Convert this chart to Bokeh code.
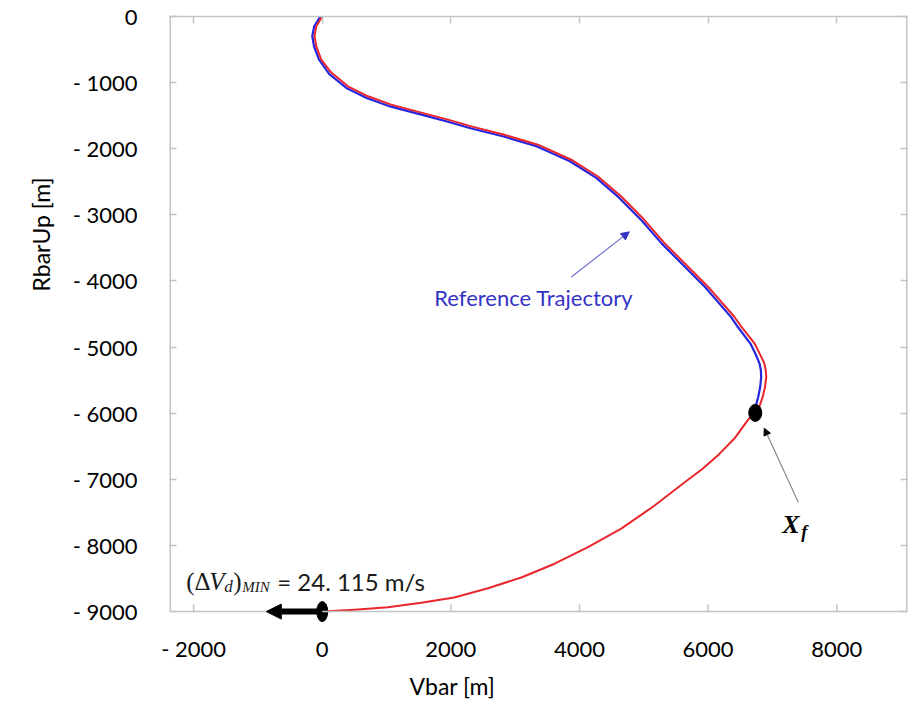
from bokeh.plotting import figure
from bokeh.models import (FixedTicker, Range1d, LinearAxis, Label, Arrow,
                          NormalHead, ColumnDataSource, Span, Title)
from bokeh.embed import file_html
from bokeh.resources import INLINE

# ---------------- data ----------------
x_ticks = [-2000, 0, 2000, 4000, 6000, 8000]
x_tick_labels = ["- 2000", "0", "2000", "4000", "6000", "8000"]
y_ticks = [0, -1000, -2000, -3000, -4000, -5000, -6000, -7000, -8000, -9000]
y_tick_labels = ["0", "- 1000", "- 2000", "- 3000", "- 4000", "- 5000",
                 "- 6000", "- 7000", "- 8000", "- 9000"]
x_title = "Vbar [m]"
y_title = "RbarUp [m]"

# red: actual trajectory (Vbar, RbarUp), from (0,0) through Xf back to (0,-9000)
red_vbar = [0, -93, -120, -93, -16, 140, 400, 711, 1073, 1539, 1955, 2317,
            2830, 3354, 3872, 4287, 4649, 5007, 5318, 5998, 6407, 6516,
            6718, 6800, 6873, 6895, 6904, 6885, 6850, 6795, 6733,
            6620, 6420, 6175, 5915, 5600, 5163, 4649, 4132, 3613, 3095, 2577,
            2053, 1539, 1022, 502, 0]
red_rbarup = [0, -147, -298, -450, -651, -848, -1056, -1207, -1333, -1454,
              -1560, -1662, -1788, -1939, -2166, -2420, -2722, -3075, -3424,
              -4086, -4541, -4692, -4939, -5095, -5242, -5348, -5449, -5600,
              -5750, -5904, -5995,
              -6100, -6370, -6615, -6840, -7070, -7400, -7746, -8025, -8276,
              -8484, -8646, -8787, -8868, -8934, -8973, -9000]

# blue: reference trajectory, ends at Xf
blue_vbar = [-30, -125, -155, -128, -50, 110, 375, 690, 1055, 1525, 1940,
             2305, 2820, 3340, 3850, 4260, 4615, 4970, 5280, 5955, 6360,
             6465, 6660, 6735, 6800, 6820, 6825, 6810, 6780, 6740, 6700]
blue_rbarup = [0, -147, -298, -450, -651, -870, -1080, -1232, -1360, -1480,
               -1588, -1690, -1815, -1965, -2190, -2440, -2740, -3090, -3435,
               -4095, -4550, -4700, -4950, -5100, -5250, -5350, -5449, -5600,
               -5750, -5890, -5990]

xf_point = (6733, -5995)        # final state Xf
start_point = (0, -9000)        # start of the manoeuvre
dv_arrow_end = (-870, -9000)    # delta-V direction arrow tip

# ---------------- figure ----------------
FONT = "Lato"
FRAME = "#c4c4c4"
X_MIN, X_MAX = -2375, 9100
Y_AXIS, Y_TOP = -9000, 0
Y_MIN = -9165                   # a little room below the axis line for the markers

p = figure(width=915, height=709,
           x_range=Range1d(X_MIN, X_MAX), y_range=Range1d(Y_MIN, Y_TOP),
           output_backend="svg", toolbar_location=None,
           min_border_left=169, min_border_right=8,
           min_border_top=16, min_border_bottom=87)
p.background_fill_color = "white"
p.border_fill_color = "white"
p.xgrid.grid_line_color = None
p.ygrid.grid_line_color = None
p.outline_line_color = None


def style_axis(ax, ticks, labels):
    ax.ticker = FixedTicker(ticks=ticks)
    ax.major_label_overrides = {t: l for t, l in zip(ticks, labels)}
    ax.major_tick_in = 7
    ax.major_tick_out = 0
    ax.minor_tick_line_color = None
    ax.axis_line_color = None
    ax.major_tick_line_color = FRAME
    ax.major_tick_line_width = 1.5
    ax.major_label_text_font = FONT
    ax.major_label_text_font_size = "22px"
    ax.major_label_text_color = "black"


style_axis(p.xaxis[0], x_ticks, x_tick_labels)
style_axis(p.yaxis[0], y_ticks, y_tick_labels)
p.xaxis.major_tick_line_color = None      # bottom ticks drawn at the axis line below
p.xaxis.major_label_standoff = 12
p.yaxis.major_label_standoff = 32

# axis titles, offset along the axes as in the reference
p.add_layout(Title(text=x_title, align="left", offset=240, standoff=10,
                   text_font=FONT, text_font_size="23px",
                   text_font_style="normal", text_color="black"), "below")
p.add_layout(Title(text=y_title, align="left", offset=331, standoff=30,
                   text_font=FONT, text_font_size="23px",
                   text_font_style="normal", text_color="black"), "left")

# mirrored inward ticks on top and right (no labels)
for ticks, side in ((x_ticks, "above"), (y_ticks, "right")):
    a = LinearAxis(ticker=FixedTicker(ticks=ticks))
    a.major_label_text_font_size = "1px"
    a.major_label_text_color = None
    a.major_label_standoff = 0
    a.major_tick_in = 7
    a.major_tick_out = 0
    a.minor_tick_line_color = None
    a.axis_line_color = FRAME if side == "above" else None
    a.axis_line_width = 1.5
    a.major_tick_line_color = FRAME
    a.major_tick_line_width = 1.5
    p.add_layout(a, side)

# frame: bottom axis line at -9000 and side borders
p.add_layout(Span(location=Y_AXIS, dimension="width", line_color=FRAME, line_width=1.5))
p.segment(x0=[X_MIN, X_MAX], y0=[Y_AXIS, Y_AXIS], x1=[X_MIN, X_MAX], y1=[Y_TOP, Y_TOP],
          line_color=FRAME, line_width=3)
# inward bottom ticks (7 px ~ 106 m)
p.segment(x0=x_ticks, y0=[Y_AXIS] * len(x_ticks), x1=x_ticks,
          y1=[Y_AXIS + 106] * len(x_ticks), line_color=FRAME, line_width=1.5)

# ---------------- curves ----------------
blue_src = ColumnDataSource(dict(x=blue_vbar, y=blue_rbarup))
red_src = ColumnDataSource(dict(x=red_vbar, y=red_rbarup))
p.line("x", "y", source=blue_src, line_color="#2626e0", line_width=2.2,
       line_join="round")
p.line("x", "y", source=red_src, line_color="#e8262c", line_width=2.0,
       line_join="round")

# delta-V arrow and start dot
p.add_layout(Arrow(end=NormalHead(size=15, fill_color="black", line_color="black"),
                   x_start=start_point[0], y_start=start_point[1],
                   x_end=dv_arrow_end[0], y_end=dv_arrow_end[1],
                   line_width=6, line_color="black"))
p.ellipse(x=[start_point[0]], y=[start_point[1]], width=11, height=20,
          width_units="screen", height_units="screen",
          fill_color="black", line_color="black")
p.ellipse(x=[xf_point[0]], y=[xf_point[1]], width=13, height=17,
          width_units="screen", height_units="screen",
          fill_color="black", line_color="black")

# ---------------- annotations ----------------
# Reference Trajectory
p.add_layout(Arrow(end=NormalHead(size=8, fill_color="#3434c8", line_color="#3434c8"),
                   x_start=3872, y_start=-3939, x_end=4774, y_end=-3257,
                   line_width=1.2, line_color="#7070d4"))
p.add_layout(Label(x=1742, y=-4257, text="Reference Trajectory",
                   text_font=FONT, text_font_size="22px", text_color="#3434c4",
                   text_baseline="middle", text_align="left"))

# X_f
p.add_layout(Arrow(end=NormalHead(size=7, fill_color="black", line_color="black"),
                   x_start=7402, y_start=-7348, x_end=6873, y_end=-6227,
                   line_width=1.2, line_color="#8a8a8a"))
p.add_layout(Label(x=7153, y=-7681, text="X", text_font="Liberation Serif",
                   text_font_size="26px", text_font_style="bold italic",
                   text_color="black", text_baseline="middle", text_align="left"))
p.add_layout(Label(x=7153, y=-7681, x_offset=19, y_offset=-8, text="f",
                   text_font="Liberation Serif", text_font_size="18px",
                   text_font_style="bold italic", text_color="black",
                   text_baseline="middle", text_align="left"))

# (ΔV_d)_MIN = 24. 115 m/s
ax0, ay0 = -2115, -8545
pieces = [
    ("(Δ", "Liberation Serif", "25px", "normal", 0, 0),
    ("V", "Liberation Serif", "25px", "italic", 23, 0),
    ("d", "Liberation Serif", "17px", "italic", 38, -5),
    (")", "Liberation Serif", "25px", "normal", 47, 0),
    ("MIN", "Liberation Serif", "15px", "italic", 56, -5),
    ("= 24. 115 m/s", FONT, "24px", "normal", 91, 0),
]
for txt, fnt, size, style, dx, dy in pieces:
    p.add_layout(Label(x=ax0, y=ay0, x_offset=dx, y_offset=dy, text=txt,
                       text_font=fnt, text_font_size=size, text_font_style=style,
                       text_color="#1a1a1a", text_baseline="alphabetic",
                       text_align="left"))

open("out.html", "w").write(file_html(p, INLINE))
